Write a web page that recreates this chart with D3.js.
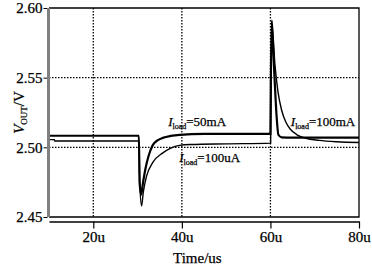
<!DOCTYPE html>
<html>
<head>
<meta charset="utf-8">
<script src="https://cdn.jsdelivr.net/npm/d3@7"></script>
<style>
	body { margin: 0; background: #fff; }
	svg text { font-family: 'Liberation Serif', 'Times New Roman', serif; fill: #000; stroke: #000; stroke-width: 0.25px; }
</style>
</head>
<body>
<div id="chart"></div>
<script>
// Chart data (time in us, voltage in V)
var xTicks = [20, 40, 60, 80];
var xTickLabels = ['20u', '40u', '60u', '80u'];
var yTicks = [2.45, 2.50, 2.55, 2.60];
var yTickLabels = ['2.45', '2.50', '2.55', '2.60'];
var gridX = [20, 40, 60];
var gridY = [2.50, 2.55];

// fast-recovering trace (thicker)
var traceATime = [10, 30.3, 30.45, 30.8, 31.2, 31.8, 32.5, 33.4, 34.5, 35.7, 37.5, 39.5, 45, 60.0, 60.1, 60.3, 60.6, 61.0, 61.4, 61.8, 62.5, 65, 80];
var traceAVolt = [2.5083, 2.5083, 2.475, 2.466, 2.474, 2.485, 2.494, 2.5014, 2.505, 2.5068, 2.5082, 2.509, 2.5097, 2.5097, 2.55, 2.591, 2.572, 2.545, 2.522, 2.509, 2.5072, 2.507, 2.507];

// slow-recovering trace (thinner)
var traceBTime = [10, 11.2, 11.3, 30.3, 30.5, 30.9, 31.3, 32, 33.4, 35.7, 37.5, 39.5, 42, 50, 60.05, 60.15, 60.4, 61.0, 61.7, 62.5, 63.5, 64.5, 66, 68, 71, 75, 80];
var traceBVolt = [2.5055, 2.5055, 2.5045, 2.5045, 2.475, 2.458, 2.468, 2.479, 2.489, 2.496, 2.4995, 2.5014, 2.502, 2.5025, 2.503, 2.55, 2.586, 2.56, 2.54, 2.527, 2.518, 2.513, 2.509, 2.5065, 2.505, 2.504, 2.5035];

var annotations = [
	{ text: '=50mA', t: 36.9, v: 2.5155 },
	{ text: '=100uA', t: 39.4, v: 2.4898 },
	{ text: '=100mA', t: 64.6, v: 2.5155 }
];

/*
 * Render the graphic.
 */
var render = function() {
	var width = 372;
	var height = 267;

	var margins = { top: 8, right: 13, bottom: 50, left: 49 };

	var svg = d3.select('#chart')
		.append('svg')
		.attr('width', width)
		.attr('height', height);

	var xScale = d3.scaleLinear()
		.domain([10, 80])
		.range([margins.left, width - margins.right]);

	var yScale = d3.scaleLinear()
		.domain([2.45, 2.60])
		.range([height - margins.bottom, margins.top]);

	var plotBottom = yScale(2.45);
	var axisY = plotBottom + 4.5;

	/*
	 * Dotted grid
	 */
	svg.append('g')
		.attr('class', 'grid')
		.selectAll('line')
		.data(gridX)
		.enter()
		.append('line')
		.attr('x1', function(d) { return xScale(d); })
		.attr('x2', function(d) { return xScale(d); })
		.attr('y1', yScale(2.60))
		.attr('y2', plotBottom)
		.attr('stroke', '#000')
		.attr('stroke-width', 1.3)
		.attr('stroke-dasharray', '1.5,1.5');

	svg.append('g')
		.attr('class', 'grid')
		.selectAll('line')
		.data(gridY)
		.enter()
		.append('line')
		.attr('x1', xScale(10))
		.attr('x2', xScale(80))
		.attr('y1', function(d) { return yScale(d); })
		.attr('y2', function(d) { return yScale(d); })
		.attr('stroke', '#000')
		.attr('stroke-width', 1.3)
		.attr('stroke-dasharray', '1.5,1.5');

	/*
	 * Frame
	 */
	svg.append('path')
		.attr('d', 'M' + xScale(10) + ',' + yScale(2.60) + 'H' + xScale(80) + 'V' + plotBottom + 'H' + xScale(10))
		.attr('fill', 'none')
		.attr('stroke', '#000')
		.attr('stroke-width', 1.3);

	/*
	 * Traces
	 */
	var line = d3.line()
		.x(function(d) { return xScale(d[0]); })
		.y(function(d) { return yScale(d[1]); })
		.curve(d3.curveMonotoneX);

	var traceB = d3.zip(traceBTime, traceBVolt);
	var traceA = d3.zip(traceATime, traceAVolt);

	svg.append('path')
		.attr('d', line(traceB))
		.attr('fill', 'none')
		.attr('stroke', '#000')
		.attr('stroke-width', 1.4);

	svg.append('path')
		.attr('d', line(traceA))
		.attr('fill', 'none')
		.attr('stroke', '#000')
		.attr('stroke-width', 2.2);

	/*
	 * Y axis (gray bar on the left)
	 */
	var yAxis = d3.axisLeft(yScale)
		.tickValues(yTicks)
		.tickSize(4)
		.tickFormat(function(d, i) { return yTickLabels[i]; });

	var yAxisG = svg.append('g')
		.attr('transform', 'translate(' + (margins.left - 1.5) + ',0)')
		.call(yAxis);
	yAxisG.select('.domain').remove();
	yAxisG.selectAll('line').attr('stroke', '#000').attr('stroke-width', 1);
	yAxisG.selectAll('text')
		.attr('x', -5)
		.style('font-size', '15px')
		.style('font-family', "'Liberation Serif', serif");

	svg.append('line')
		.attr('x1', margins.left - 0.5)
		.attr('x2', margins.left - 0.5)
		.attr('y1', yScale(2.60))
		.attr('y2', plotBottom)
		.attr('stroke', '#808080')
		.attr('stroke-width', 3);

	/*
	 * X axis (separate line under the frame)
	 */
	var xAxis = d3.axisBottom(xScale)
		.tickValues(xTicks)
		.tickSize(7)
		.tickSizeOuter(0)
		.tickFormat(function(d, i) { return xTickLabels[i]; });

	var xAxisG = svg.append('g')
		.attr('transform', 'translate(0,' + axisY + ')')
		.call(xAxis);
	xAxisG.select('.domain').attr('stroke', '#000').attr('stroke-width', 1.3);
	xAxisG.selectAll('line').attr('stroke', '#000').attr('stroke-width', 1.2);
	xAxisG.selectAll('text')
		.attr('y', 10)
		.style('font-size', '15px')
		.style('font-family', "'Liberation Serif', serif");

	/*
	 * Axis titles
	 */
	svg.append('text')
		.attr('x', xScale(43.5))
		.attr('y', 263)
		.attr('text-anchor', 'middle')
		.style('font-size', '15px')
		.text('Time/us');

	var yTitle = svg.append('text')
		.attr('transform', 'translate(24,' + yScale(2.525) + ') rotate(-90)')
		.attr('text-anchor', 'middle')
		.style('font-size', '15px');
	yTitle.append('tspan').style('font-style', 'italic').text('V');
	yTitle.append('tspan').attr('dy', 3).style('font-size', '9px').text('OUT');
	yTitle.append('tspan').attr('dy', -3).text('/V');

	/*
	 * Load current labels
	 */
	var labels = svg.append('g').attr('class', 'labels');
	annotations.forEach(function(a) {
		var t = labels.append('text')
			.attr('x', xScale(a.t))
			.attr('y', yScale(a.v))
			.style('font-size', '13px');
		t.append('tspan').style('font-style', 'italic').text('I');
		t.append('tspan').attr('dy', 3).style('font-size', '8px').text('load');
		t.append('tspan').attr('dy', -3).text(a.text);
	});
};

window.onload = render;
</script>
</body>
</html>
